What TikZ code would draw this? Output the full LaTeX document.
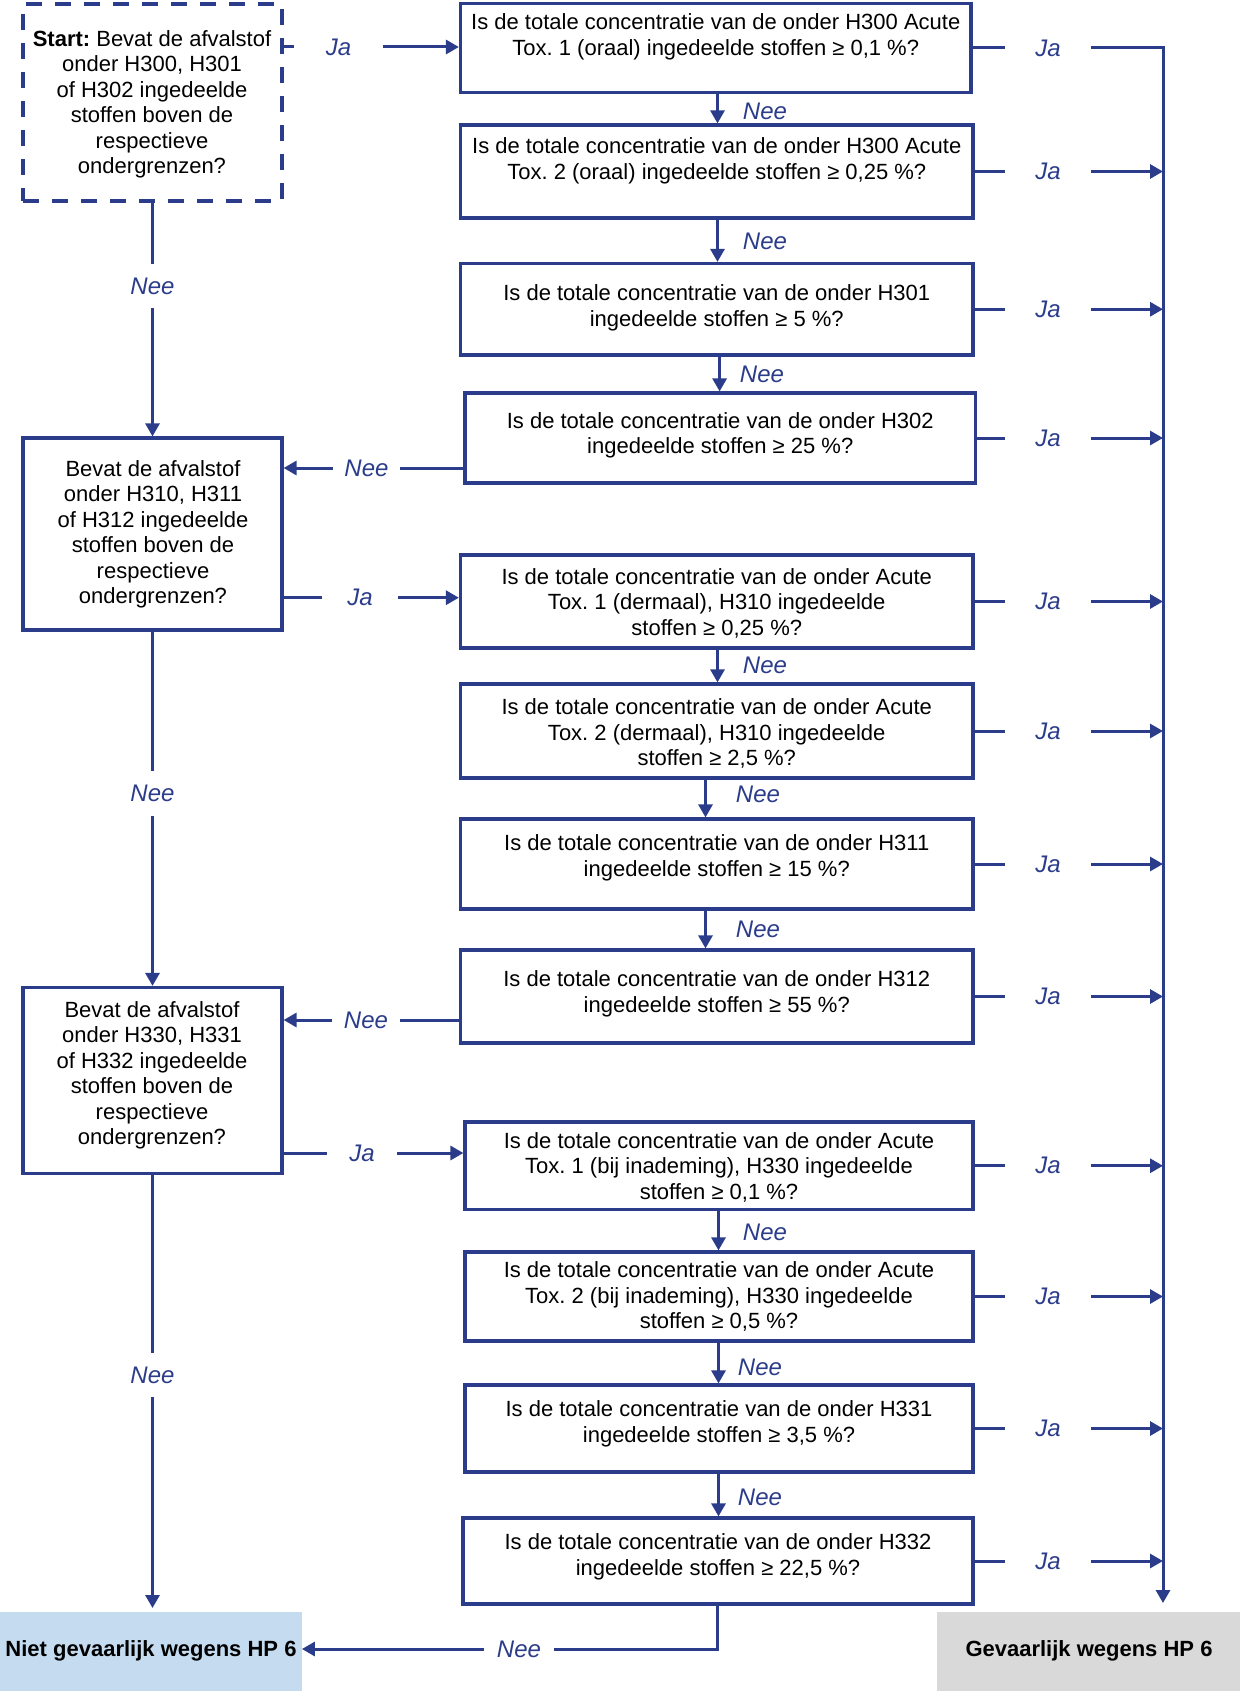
\documentclass[tikz,border=0pt]{standalone}
\usepackage{fontspec}
\setmainfont{Liberation Sans}
\usetikzlibrary{arrows.meta,fit,calc}
\definecolor{fblue}{RGB}{43,60,138}
\definecolor{nietfill}{RGB}{197,220,240}
\definecolor{gevfill}{RGB}{217,217,217}
\frenchspacing
\begin{document}
\begin{tikzpicture}[x=0.5pt,y=-0.5pt,
  box/.style={draw=fblue, line width=1.6pt, inner sep=0pt},
  dbox/.style={box, dash pattern=on 8pt off 6.5pt},
  txt/.style={align=center, inner sep=0pt, font=\fontsize{11}{12.75}\selectfont,
    execute at begin node=\strut, execute at end node=\strut},
  btxt/.style={inner sep=0pt, font=\fontsize{11}{12.75}\selectfont\bfseries},
  lbl/.style={inner sep=0pt, font=\fontsize{12}{14}\selectfont\itshape, text=fblue},
  hl/.style={lbl, minimum width=#1},
  vl/.style={lbl, minimum height=22pt},
  conn/.style={draw=fblue, line width=1.5pt},
  arr/.style={conn, -{Triangle[length=6.5pt,width=7pt]}},
]
\useasboundingbox (0,0) rectangle (1240,1707);

% ---- boxes ----
\node[dbox, fit={(23,4) (282,201)}] (st) {};
\node[box, fit={(23,438) (282,630)}] (l2) {};
\node[box, fit={(23,987.5) (282,1173.6)}] (l3) {};

\node[box, fit={(460.5,3.5) (971,92.5)}] (q1) {};
\node[box, fit={(460.5,125) (973,218)}] (q2) {};
\node[box, fit={(460.5,263.5) (973,355)}] (q3) {};
\node[box, fit={(465,393) (975.5,483)}] (q4) {};
\node[box, fit={(460.5,555) (973,648)}] (q5) {};
\node[box, fit={(460.5,684) (973,778)}] (q6) {};
\node[box, fit={(460.5,819) (973,909)}] (q7) {};
\node[box, fit={(460.5,950) (973,1043)}] (q8) {};
\node[box, fit={(465,1122) (973,1209.5)}] (q9) {};
\node[box, fit={(465,1252) (973,1341)}] (q10) {};
\node[box, fit={(465,1385) (973,1472)}] (q11) {};
\node[box, fit={(463,1518) (973,1604)}] (q12) {};

\node[fill=nietfill, inner sep=0pt, fit={(0,1612) (301.5,1691)}] (niet) {};
\node[fill=gevfill, inner sep=0pt, fit={(937,1612) (1240,1691)}] (gev) {};

% ---- texts ----
\node[txt] (tst) at (152,106) {\textbf{Start:} Bevat de afvalstof\\onder H300, H301\\of H302 ingedeelde\\stoffen boven de\\respectieve\\ondergrenzen?};
\node[txt] (tl2) at (153,536) {Bevat de afvalstof\\onder H310, H311\\of H312 ingedeelde\\stoffen boven de\\respectieve\\ondergrenzen?};
\node[txt] (tl3) at (152,1077) {Bevat de afvalstof\\onder H330, H331\\of H332 ingedeelde\\stoffen boven de\\respectieve\\ondergrenzen?};

\node[txt] (t1) at (715.75,38.5) {Is de totale concentratie van de onder H300 Acute\\Tox. 1 (oraal) ingedeelde stoffen ≥ 0,1 \%?};
\node[txt] (t2) at (716.75,162.6) {Is de totale concentratie van de onder H300 Acute\\Tox. 2 (oraal) ingedeelde stoffen ≥ 0,25 \%?};
\node[txt] (t3) at (716.75,309.6) {Is de totale concentratie van de onder H301\\ingedeelde stoffen ≥ 5 \%?};
\node[txt] (t4) at (720.25,437) {Is de totale concentratie van de onder H302\\ingedeelde stoffen ≥ 25 \%?};
\node[txt] (t5) at (716.75,605.4) {Is de totale concentratie van de onder Acute\\Tox. 1 (dermaal), H310 ingedeelde\\stoffen ≥ 0,25 \%?};
\node[txt] (t6) at (716.75,736.1) {Is de totale concentratie van de onder Acute\\Tox. 2 (dermaal), H310 ingedeelde\\stoffen ≥ 2,5 \%?};
\node[txt] (t7) at (716.75,859.4) {Is de totale concentratie van de onder H311\\ingedeelde stoffen ≥ 15 \%?};
\node[txt] (t8) at (716.75,995.5) {Is de totale concentratie van de onder H312\\ingedeelde stoffen ≥ 55 \%?};
\node[txt] (t9) at (719,1169.4) {Is de totale concentratie van de onder Acute\\Tox. 1 (bij inademing), H330 ingedeelde\\stoffen ≥ 0,1 \%?};
\node[txt] (t10) at (719,1298.9) {Is de totale concentratie van de onder Acute\\Tox. 2 (bij inademing), H330 ingedeelde\\stoffen ≥ 0,5 \%?};
\node[txt] (t11) at (719,1425.5) {Is de totale concentratie van de onder H331\\ingedeelde stoffen ≥ 3,5 \%?};
\node[txt] (t12) at (718,1558.4) {Is de totale concentratie van de onder H332\\ingedeelde stoffen ≥ 22,5 \%?};

\node[btxt] (tniet) at (151,1651) {Niet gevaarlijk wegens HP 6};
\node[btxt] (tgev) at (1089,1651) {Gevaarlijk wegens HP 6};

% ---- helper coordinates ----
\coordinate (jx) at (1048,0);
\coordinate (rvb) at (1163,1603);
\coordinate (ax1) at (717.5,0);
\coordinate (ax2) at (719.6,0);
\coordinate (ax3) at (705.5,0);
\coordinate (ax4) at (718.5,0);
\coordinate (nb) at (152.5,1608);

% ---- right-hand Ja connectors ----
\foreach \i in {1,...,12}{
  \node[hl=42.5pt] (ja\i) at (q\i.east -| jx) {Ja};
  \draw[conn] (q\i.east) -- (ja\i.west);
}
\draw[arr] (ja1.east) -- (ja1.east -| rvb) -- (rvb);
\foreach \i in {2,...,12}{
  \draw[arr] (ja\i.east) -- (ja\i.east -| rvb);
}

% ---- vertical Nee arrows between questions ----
\draw[arr] (q1.south -| ax1) -- (q2.north -| ax1);
\draw[arr] (q2.south -| ax1) -- (q3.north -| ax1);
\draw[arr] (q3.south -| ax2) -- (q4.north -| ax2);
\draw[arr] (q5.south -| ax1) -- (q6.north -| ax1);
\draw[arr] (q6.south -| ax3) -- (q7.north -| ax3);
\draw[arr] (q7.south -| ax3) -- (q8.north -| ax3);
\draw[arr] (q9.south -| ax4) -- (q10.north -| ax4);
\draw[arr] (q10.south -| ax4) -- (q11.north -| ax4);
\draw[arr] (q11.south -| ax4) -- (q12.north -| ax4);

\node[lbl] (n12) at (765,111) {Nee};
\node[lbl] (n23) at (765,241.6) {Nee};
\node[lbl] (n34) at (762,374.4) {Nee};
\node[lbl] (n56) at (765,665) {Nee};
\node[lbl] (n67) at (758,794.7) {Nee};
\node[lbl] (n78) at (758,929.7) {Nee};
\node[lbl] (n910) at (765,1232) {Nee};
\node[lbl] (n1011) at (760,1367) {Nee};
\node[lbl] (n1112) at (760,1497) {Nee};

% ---- left-side horizontal connectors ----
\node[hl=44.5pt] (ja0) at (338.5,47) {Ja};
\draw[conn] (ja0.west -| st.east) -- (ja0.west);
\draw[arr] (ja0.east) -- (ja0.east -| q1.west);

\node[hl=33.5pt] (nee4) at (366.5,468) {Nee};
\draw[conn] (nee4.east -| q4.west) -- (nee4.east);
\draw[arr] (nee4.west) -- (nee4.west -| l2.east);

\node[hl=38pt] (ja5) at (360,597.7) {Ja};
\draw[conn] (ja5.west -| l2.east) -- (ja5.west);
\draw[arr] (ja5.east) -- (ja5.east -| q5.west);

\node[hl=34pt] (nee8) at (366,1020) {Nee};
\draw[conn] (nee8.east -| q8.west) -- (nee8.east);
\draw[arr] (nee8.west) -- (nee8.west -| l3.east);

\node[hl=35pt] (ja9) at (362,1153) {Ja};
\draw[conn] (ja9.west -| l3.east) -- (ja9.west);
\draw[arr] (ja9.east) -- (ja9.east -| q9.west);

% ---- bottom Nee ----
\node[hl=34.5pt] (neeb) at (519,1649) {Nee};
\draw[conn] (q12.south -| ax1) -- (ax1 |- neeb) -- (neeb.east);
\draw[arr] (neeb.west) -- (neeb.west -| niet.east);

% ---- left vertical connectors ----
\node[vl] (ns) at (152.5,286) {Nee};
\draw[conn] (st.south) -- (ns.north);
\draw[arr] (ns.south) -- (l2.north);

\node[vl] (n2) at (152.5,793.6) {Nee};
\draw[conn] (l2.south) -- (n2.north);
\draw[arr] (n2.south) -- (l3.north);

\node[vl] (n3) at (152.5,1375) {Nee};
\draw[conn] (l3.south) -- (n3.north);
\draw[arr] (n3.south) -- (nb);
\end{tikzpicture}
\end{document}
